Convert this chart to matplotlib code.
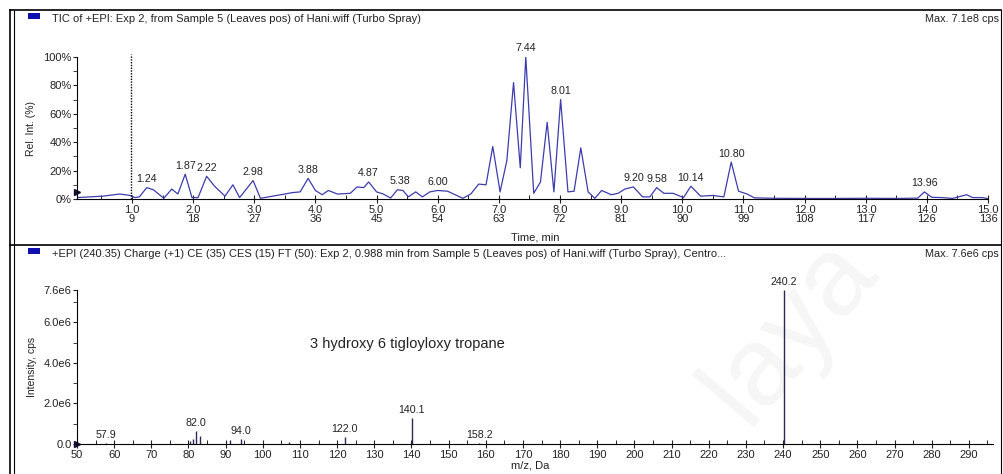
import matplotlib
matplotlib.use("Agg")
import matplotlib.pyplot as plt
from matplotlib.lines import Line2D
from matplotlib.patches import Rectangle
from matplotlib.ticker import MultipleLocator, FixedLocator

plt.rcParams['font.family'] = ['Liberation Sans', 'DejaVu Sans']

# TIC chromatogram (time in min, relative intensity in %)
tic_time = [0.10, 0.31, 0.52, 0.80, 0.97, 1.05, 1.12, 1.24, 1.35, 1.52, 1.65, 1.75,
            1.87, 1.98, 2.08, 2.22, 2.35, 2.52, 2.65, 2.76, 2.98, 3.10, 3.30, 3.50,
            3.62, 3.75, 3.88, 4.00, 4.11, 4.21, 4.36, 4.57, 4.68, 4.79, 4.87, 5.00,
            5.11, 5.23, 5.34, 5.43, 5.52, 5.64, 5.75, 5.87, 6.00, 6.16, 6.26, 6.41,
            6.54, 6.67, 6.79, 6.90, 7.02, 7.13, 7.24, 7.35, 7.44, 7.57, 7.68, 7.79,
            7.90, 8.01, 8.13, 8.23, 8.34, 8.46, 8.57, 8.68, 8.84, 8.95, 9.06, 9.20,
            9.35, 9.47, 9.58, 9.70, 9.85, 10.02, 10.14, 10.30, 10.50, 10.68, 10.80,
            10.92, 11.06, 11.18, 11.50, 12.00, 12.50, 13.00, 13.50, 13.85, 13.96,
            14.08, 14.25, 14.42, 14.65, 14.75, 14.90, 15.00]
tic_int = [1.0, 1.5, 2.0, 3.5, 2.5, 1.0, 1.5, 8.0, 6.5, 0.5, 7.0, 3.5,
           17.5, 1.0, 1.0, 16.0, 9.0, 2.0, 10.0, 1.0, 13.0, 0.5, 2.0, 3.5,
           4.5, 5.0, 14.5, 6.0, 3.0, 6.0, 3.5, 4.0, 8.5, 8.0, 12.0, 5.0,
           3.5, 0.7, 6.5, 6.0, 1.5, 5.0, 1.5, 5.0, 6.0, 5.5, 3.5, 0.5,
           3.5, 10.5, 10.0, 37.0, 5.0, 27.0, 82.0, 22.0, 100.0, 4.0, 12.0, 54.0,
           5.0, 70.0, 5.0, 5.5, 36.0, 5.0, 0.5, 6.0, 3.0, 4.0, 7.0, 8.5,
           1.5, 1.5, 8.0, 4.0, 4.0, 1.0, 9.0, 2.0, 2.5, 1.5, 26.0,
           5.5, 3.5, 0.8, 0.5, 0.4, 0.4, 0.5, 0.4, 0.6, 5.0,
           1.2, 1.0, 0.4, 3.0, 1.0, 1.0, 0.3]
tic_peaks = [1.24, 1.87, 2.22, 2.98, 3.88, 4.87, 5.38, 6.00, 7.44, 8.01,
             9.20, 9.58, 10.14, 10.80, 13.96]
tic_peak_h = [8.0, 17.5, 16.0, 13.0, 14.5, 12.0, 6.5, 6.0, 100.0, 70.0,
              8.5, 8.0, 9.0, 26.0, 5.0]
time_ticks = [1.0, 2.0, 3.0, 4.0, 5.0, 6.0, 7.0, 8.0, 9.0, 10.0, 11.0, 12.0, 13.0, 14.0, 15.0]
scan_ticks = [9, 18, 27, 36, 45, 54, 63, 72, 81, 90, 99, 108, 117, 126, 136]
pct_ticks = [0, 20, 40, 60, 80, 100]
spec_time = 0.988

# MS/MS spectrum (m/z, intensity in cps)
ms_mz = [57.9, 80.4, 81.3, 82.0, 83.1, 91.2, 94.0, 107.1, 122.0, 140.1, 158.2, 240.2]
ms_int = [0.06e6, 0.13e6, 0.25e6, 0.63e6, 0.41e6, 0.2e6, 0.25e6, 0.08e6, 0.35e6, 1.29e6, 0.05e6, 7.6e6]
ms_labels = ['57.9', '82.0', '94.0', '122.0', '140.1', '158.2', '240.2']
int_ticks = [0, 2e6, 4e6, 6e6, 7.6e6]
int_ticklabels = ['0.0', '2.0e6', '4.0e6', '6.0e6', '7.6e6']

W, H = 1004, 474
fig = plt.figure(figsize=(W / 100, H / 100), dpi=100)
TXT = '#222222'


def fx(px):
    return px / W


def fy(py):
    return 1 - py / H


# ---- frames around the two panels
frame_kw = dict(transform=fig.transFigure, color='black', lw=1.2)
fig.add_artist(Line2D([fx(10), fx(1001)], [fy(10), fy(10)], **frame_kw))
fig.add_artist(Line2D([fx(10), fx(10)], [fy(10), fy(474)], **frame_kw))
fig.add_artist(Line2D([fx(14), fx(14)], [fy(10), fy(474)], transform=fig.transFigure, color='black', lw=0.8))
fig.add_artist(Line2D([fx(1001), fx(1001)], [fy(10), fy(474)], transform=fig.transFigure, color='black', lw=0.8))
fig.add_artist(Line2D([fx(10), fx(1001)], [fy(245), fy(245)], **frame_kw))

# faint watermark
fig.text(fx(790), fy(330), 'laya', fontsize=80, color='#f6f6f6', rotation=50,
         ha='center', va='center', zorder=-1)

# panel headers
for ytop, title, maxtxt in [
        (13, 'TIC of +EPI: Exp 2, from Sample 5 (Leaves pos) of Hani.wiff (Turbo Spray)', 'Max. 7.1e8 cps'),
        (248, '+EPI (240.35) Charge (+1) CE (35) CES (15) FT (50): Exp 2, 0.988 min from Sample 5 (Leaves pos) '
              'of Hani.wiff (Turbo Spray), Centro...', 'Max. 7.6e6 cps')]:
    fig.add_artist(Rectangle((fx(28), fy(ytop + 6)), fx(12), 6 / H, transform=fig.transFigure,
                             facecolor='#1010b0', edgecolor='none'))
    fig.text(fx(52), fy(ytop + 6), title, fontsize=8, va='center', ha='left', color=TXT)
    fig.text(fx(999), fy(ytop + 6), maxtxt, fontsize=7.8, va='center', ha='right', color=TXT)

# ---- top: TIC
ax1 = fig.add_axes([fx(77), fy(199), fx(988) - fx(77), fy(57) - fy(199)])
ax1.patch.set_alpha(0)
ax1.plot(tic_time, tic_int, color='#3c3cae', lw=0.9)
ax1.vlines(spec_time, 0, 102, color='black', lw=1.0, linestyles=(0, (1, 1)), clip_on=False)
for t, h in zip(tic_peaks, tic_peak_h):
    ax1.text(t, h + 2.5, '%.2f' % t, fontsize=7.7, ha='center', va='bottom', color=TXT, clip_on=False)
ax1.set_xlim(0.1, 15.0)
ax1.set_ylim(0, 100)
ax1.spines['top'].set_visible(False)
ax1.spines['right'].set_visible(False)
ax1.xaxis.set_major_locator(FixedLocator(time_ticks))
ax1.set_xticklabels(['%.1f\n%d' % (t, s) for t, s in zip(time_ticks, scan_ticks)], linespacing=0.95)
ax1.xaxis.set_minor_locator(MultipleLocator(0.5))
ax1.yaxis.set_major_locator(FixedLocator(pct_ticks))
ax1.set_yticklabels(['%d%%' % v for v in pct_ticks])
ax1.yaxis.set_minor_locator(MultipleLocator(10))
ax1.tick_params(axis='x', which='major', direction='inout', length=6, labelsize=8, pad=1, colors=TXT)
ax1.tick_params(axis='x', which='minor', direction='in', length=3)
ax1.tick_params(axis='y', which='both', direction='out', length=3, pad=1, labelsize=8, colors=TXT)
ax1.set_ylabel('Rel. Int. (%)', fontsize=7.5, labelpad=5, color=TXT)
ax1.plot([0], [0.05], marker='>', color='#111133', markersize=5, transform=ax1.transAxes, clip_on=False)
fig.text(fx(511), fy(237), 'Time, min', fontsize=8, va='center', ha='left', color=TXT)

# ---- bottom: MS/MS spectrum
ax2 = fig.add_axes([fx(77), fy(444), fx(993) - fx(77), fy(290) - fy(444)])
ax2.patch.set_alpha(0)
ax2.vlines(ms_mz, 0, ms_int, color='#2a2a55', lw=1.0)
for lab in ms_labels:
    m = float(lab)
    i = ms_mz.index(m)
    ax2.text(m, ms_int[i] + 0.15e6, lab, fontsize=7.7, ha='center', va='bottom', color=TXT, clip_on=False)
ax2.text(139, 4.95e6, '3 hydroxy 6 tigloyloxy tropane', fontsize=10.5, ha='center', va='center', color=TXT)
ax2.set_xlim(50, 296.5)
ax2.set_ylim(0, 7.6e6)
ax2.spines['top'].set_visible(False)
ax2.spines['right'].set_visible(False)
ax2.xaxis.set_major_locator(MultipleLocator(10))
ax2.xaxis.set_minor_locator(MultipleLocator(5))
ax2.yaxis.set_major_locator(FixedLocator(int_ticks))
ax2.set_yticklabels(int_ticklabels)
ax2.yaxis.set_minor_locator(FixedLocator([1e6, 3e6, 5e6, 7e6]))
ax2.tick_params(axis='x', which='major', direction='inout', length=6, labelsize=8, pad=1, colors=TXT)
ax2.tick_params(axis='x', which='minor', direction='in', length=3)
ax2.tick_params(axis='y', which='both', direction='out', length=3, pad=1, labelsize=8, colors=TXT)
ax2.set_ylabel('Intensity, cps', fontsize=7.5, labelpad=5, color=TXT)
ax2.plot([0], [0], marker='>', color='#111133', markersize=5, transform=ax2.transAxes, clip_on=False)
fig.text(fx(511), fy(466), 'm/z, Da', fontsize=8, va='center', ha='left', color=TXT)

fig.savefig('out.png', dpi=100)
